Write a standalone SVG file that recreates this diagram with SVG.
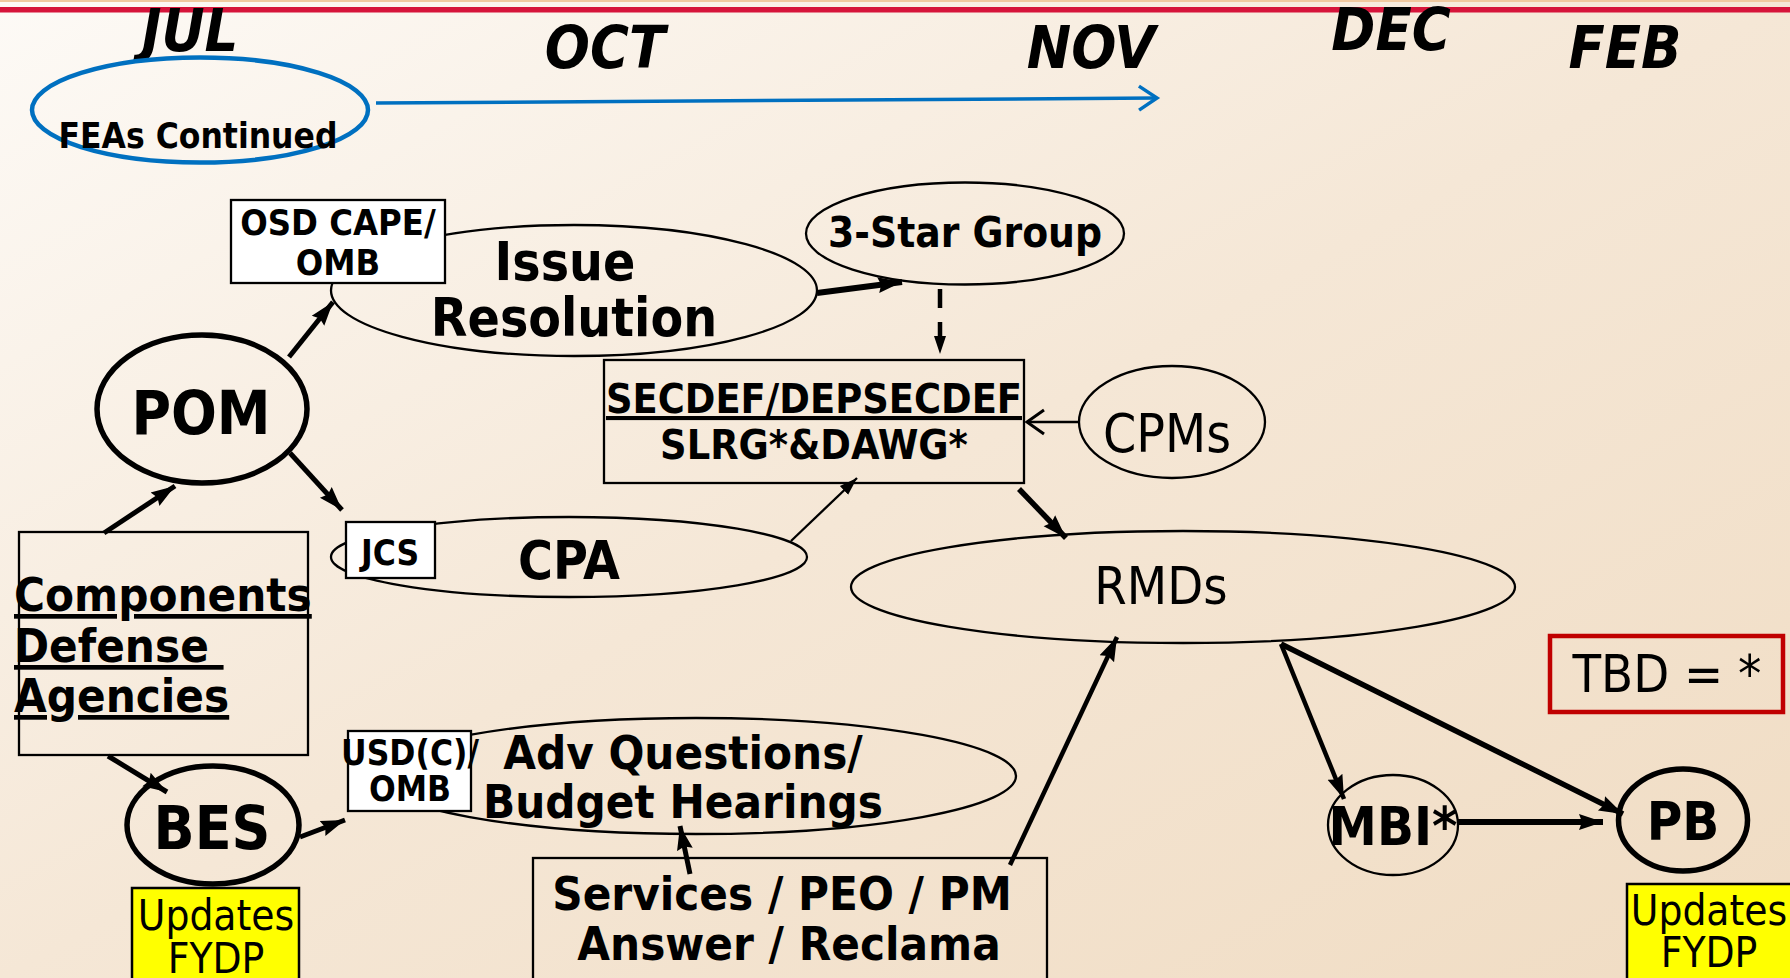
<svg xmlns="http://www.w3.org/2000/svg" width="1790" height="978" viewBox="0 0 1790 978">
<defs>
<linearGradient id="bg" x1="0" y1="0" x2="1" y2="1">
<stop offset="0" stop-color="#fdfaf6"/>
<stop offset="0.5" stop-color="#f5e7d6"/>
<stop offset="1" stop-color="#f0dcc3"/>
</linearGradient>
<marker id="ah" markerUnits="userSpaceOnUse" markerWidth="26" markerHeight="20" refX="24" refY="10" orient="auto">
<path d="M0,2 L24,10 L0,18 L3,10 Z" fill="#000"/>
</marker>
<marker id="ahs" markerUnits="userSpaceOnUse" markerWidth="20" markerHeight="16" refX="18" refY="8" orient="auto">
<path d="M0,2 L18,8 L0,14 Z" fill="#000"/>
</marker>
<marker id="open" markerUnits="userSpaceOnUse" markerWidth="24" markerHeight="30" refX="21" refY="15" orient="auto">
<path d="M4,3 L21,15 L4,27" fill="none" stroke="#000" stroke-width="3"/>
</marker>
<marker id="openb" markerUnits="userSpaceOnUse" markerWidth="26" markerHeight="28" refX="22" refY="14" orient="auto">
<path d="M4,2 L22,14 L4,26" fill="none" stroke="#0070c0" stroke-width="3.5"/>
</marker>
</defs>
<style>
.b{font-family:"DejaVu Sans","Liberation Sans",sans-serif;font-stretch:condensed;font-weight:bold;fill:#000}
.n{font-family:"DejaVu Sans","Liberation Sans",sans-serif;font-stretch:condensed;font-weight:normal;fill:#000}
.m{font-family:"DejaVu Sans","Liberation Sans",sans-serif;font-stretch:condensed;font-weight:bold;font-style:italic;font-size:59px;fill:#000}
.thin{fill:none;stroke:#000;stroke-width:2.3}
.thick{fill:none;stroke:#000;stroke-width:5.5}
.box{fill:#fff;stroke:#000;stroke-width:2.3}
.plain{fill:none;stroke:#000;stroke-width:2.3}
.yel{fill:#ffff00;stroke:#000;stroke-width:2.5}
.c{stroke:#000;fill:none}
</style>
<rect x="0" y="0" width="1790" height="978" fill="url(#bg)"/>
<rect x="0" y="0" width="1790" height="2" fill="#f0c9a0"/>
<rect x="0" y="7" width="1790" height="5.5" fill="#d6143a"/>

<g id="months">
<text class="m" x="190" y="51" text-anchor="middle" font-size="61">JUL</text>
<text class="m" x="605" y="68" text-anchor="middle">OCT</text>
<text class="m" x="1091" y="68" text-anchor="middle">NOV</text>
<text class="m" x="1391" y="50" text-anchor="middle">DEC</text>
<text class="m" x="1625" y="68" text-anchor="middle">FEB</text>
</g>

<g id="connectors">
<line x1="376" y1="103" x2="1157" y2="98" stroke="#0070c0" stroke-width="3.5" marker-end="url(#openb)"/>
<line class="c" x1="817" y1="293" x2="902" y2="282" stroke-width="6" marker-end="url(#ah)"/>
<line class="c" x1="940" y1="289" x2="940" y2="354" stroke-width="4.5" stroke-dasharray="19,14" marker-end="url(#ahs)"/>
<line class="c" x1="1079" y1="422" x2="1027" y2="422" stroke-width="2.3" marker-end="url(#open)"/>
<line class="c" x1="289" y1="357" x2="333" y2="302" stroke-width="5" marker-end="url(#ah)"/>
<line class="c" x1="290" y1="453" x2="342" y2="510" stroke-width="5" marker-end="url(#ah)"/>
<line class="c" x1="104" y1="533" x2="175" y2="486" stroke-width="5" marker-end="url(#ah)"/>
<line class="c" x1="791" y1="541" x2="857" y2="478" stroke-width="2.3" marker-end="url(#ahs)"/>
<line class="c" x1="1019" y1="489" x2="1066" y2="538" stroke-width="5.5" marker-end="url(#ah)"/>
<line class="c" x1="108" y1="756" x2="167" y2="792" stroke-width="5" marker-end="url(#ah)"/>
<line class="c" x1="300" y1="837" x2="345" y2="820" stroke-width="5" marker-end="url(#ah)"/>
<line class="c" x1="690" y1="874" x2="680" y2="826" stroke-width="5" marker-end="url(#ah)"/>
<line class="c" x1="1010" y1="865" x2="1117" y2="637" stroke-width="4.5" marker-end="url(#ah)"/>
<line class="c" x1="1281" y1="644" x2="1344" y2="799" stroke-width="4.5" marker-end="url(#ah)"/>
<line class="c" x1="1281" y1="644" x2="1623" y2="814" stroke-width="5.5" marker-end="url(#ah)"/>
<line class="c" x1="1458" y1="822" x2="1603" y2="822" stroke-width="6" marker-end="url(#ah)"/>
</g>

<g id="feas">
<ellipse cx="200" cy="110" rx="168" ry="52.5" fill="none" stroke="#0070c0" stroke-width="4.5"/>
<text class="b" x="198" y="148" text-anchor="middle" font-size="35">FEAs Continued</text>
</g>

<g id="issue">
<ellipse class="thin" cx="574" cy="290.5" rx="243" ry="65.5"/>
<text class="b" x="565" y="280" text-anchor="middle" font-size="53">Issue</text>
<text class="b" x="574" y="336" text-anchor="middle" font-size="53">Resolution</text>
</g>

<g id="osd">
<rect class="box" x="231" y="200" width="214" height="83"/>
<text class="b" x="338" y="235" text-anchor="middle" font-size="36">OSD CAPE/</text>
<text class="b" x="338" y="275" text-anchor="middle" font-size="36">OMB</text>
</g>

<g id="threestar">
<ellipse class="thin" cx="965" cy="233.5" rx="159" ry="51"/>
<text class="b" x="965" y="247" text-anchor="middle" font-size="42">3-Star Group</text>
</g>

<g id="secdef">
<rect class="plain" x="604" y="360" width="420" height="123"/>
<text class="b" x="814" y="413" text-anchor="middle" font-size="41" text-decoration="underline">SECDEF/DEPSECDEF</text>
<text class="b" x="814" y="459" text-anchor="middle" font-size="41">SLRG*&amp;DAWG*</text>
</g>

<g id="cpms">
<ellipse class="thin" cx="1172" cy="422" rx="93" ry="56"/>
<text class="n" x="1167" y="452" text-anchor="middle" font-size="53">CPMs</text>
</g>

<g id="pom">
<ellipse class="thick" cx="202" cy="409" rx="105" ry="74"/>
<text class="b" x="201" y="434" text-anchor="middle" font-size="60">POM</text>
</g>

<g id="components">
<rect class="plain" x="19" y="532" width="289" height="223"/>
<text class="b" x="14" y="611" font-size="47" text-decoration="underline">Components</text>
<text class="b" x="14" y="662" font-size="47" text-decoration="underline" xml:space="preserve">Defense </text>
<text class="b" x="14" y="712" font-size="47" text-decoration="underline">Agencies</text>
</g>

<g id="cpa">
<ellipse class="thin" cx="569" cy="557" rx="238" ry="40"/>
<text class="b" x="569" y="579" text-anchor="middle" font-size="53">CPA</text>
</g>

<g id="jcs">
<rect class="box" x="346" y="522" width="89" height="56"/>
<text class="b" x="390" y="565" text-anchor="middle" font-size="35">JCS</text>
</g>

<g id="rmds">
<ellipse class="thin" cx="1183" cy="587" rx="332" ry="56"/>
<text class="n" x="1161" y="604" text-anchor="middle" font-size="52">RMDs</text>
</g>

<g id="tbd">
<rect x="1550" y="636" width="233" height="76" fill="none" stroke="#c00000" stroke-width="4.5"/>
<text class="n" x="1667" y="692" text-anchor="middle" font-size="52">TBD = *</text>
</g>

<g id="adv">
<ellipse class="thin" cx="696" cy="776" rx="320" ry="58"/>
<text class="b" x="683" y="769" text-anchor="middle" font-size="47">Adv Questions/</text>
<text class="b" x="683" y="818" text-anchor="middle" font-size="47">Budget Hearings</text>
</g>

<g id="usdc">
<rect class="box" x="348" y="731" width="123" height="80"/>
<text class="b" x="410" y="765" text-anchor="middle" font-size="35">USD(C)/</text>
<text class="b" x="410" y="801" text-anchor="middle" font-size="35">OMB</text>
</g>

<g id="bes">
<ellipse class="thick" cx="213" cy="825" rx="86" ry="59"/>
<text class="b" x="212" y="849" text-anchor="middle" font-size="60">BES</text>
</g>

<g id="updates-left">
<rect class="yel" x="132" y="888" width="167" height="100"/>
<text class="n" x="216" y="930" text-anchor="middle" font-size="42">Updates</text>
<text class="n" x="216" y="973" text-anchor="middle" font-size="42">FYDP</text>
</g>

<g id="services">
<rect class="plain" x="533" y="858" width="514" height="130"/>
<text class="b" x="782" y="910" text-anchor="middle" font-size="47">Services / PEO / PM</text>
<text class="b" x="789" y="960" text-anchor="middle" font-size="47">Answer / Reclama</text>
</g>

<g id="mbi">
<ellipse class="thin" cx="1393" cy="825" rx="65" ry="50"/>
<text class="b" x="1393" y="845" text-anchor="middle" font-size="54">MBI*</text>
</g>

<g id="pb">
<ellipse class="thick" cx="1683" cy="820" rx="64.5" ry="51"/>
<text class="b" x="1683" y="840" text-anchor="middle" font-size="54">PB</text>
</g>

<g id="updates-right">
<rect class="yel" x="1627" y="884" width="170" height="104"/>
<text class="n" x="1709" y="925" text-anchor="middle" font-size="42">Updates</text>
<text class="n" x="1709" y="967" text-anchor="middle" font-size="42">FYDP</text>
</g>
</svg>
